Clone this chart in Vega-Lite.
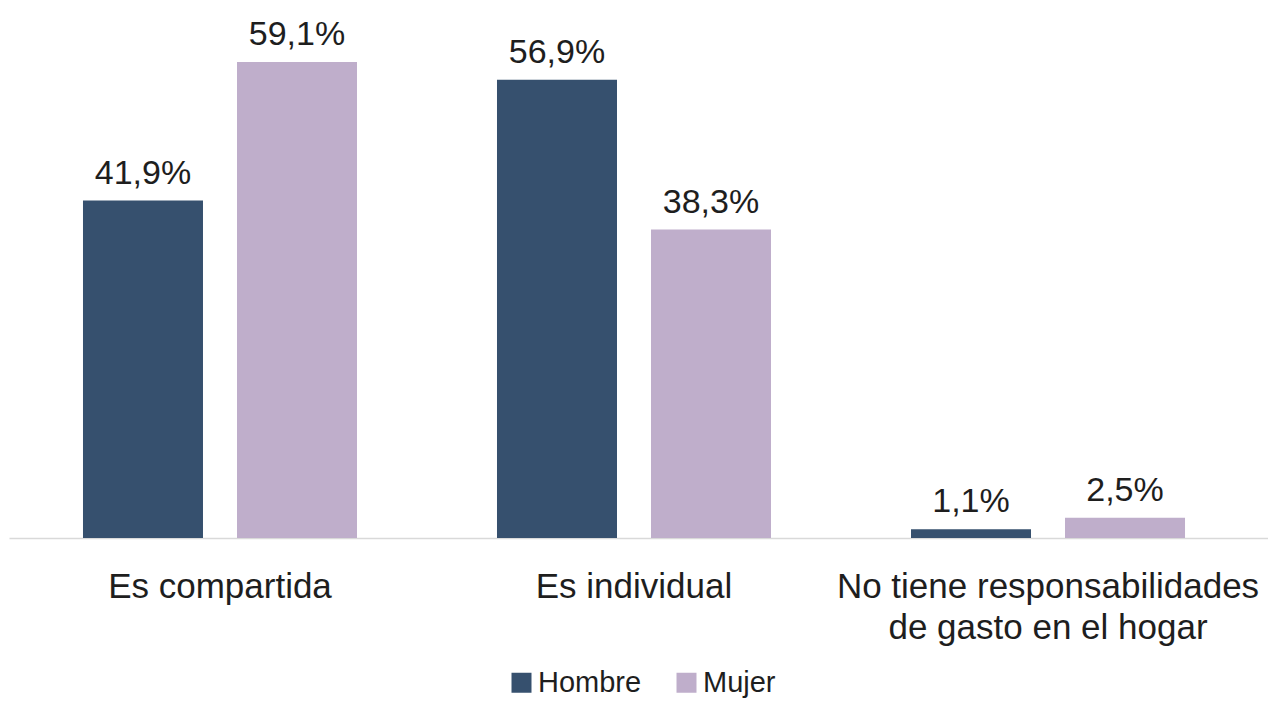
{
  "$schema": "https://vega.github.io/schema/vega-lite/v6.json",
  "width": 1259,
  "height": 538,
  "autosize": {"type": "none"},
  "padding": {"left": 9, "top": 0, "right": 0, "bottom": 163},
  "background": "white",
  "config": {
    "view": {"stroke": null},
    "font": "Liberation Sans"
  },
  "data": {
    "values": [
      {"categoria": "Es compartida", "sexo": "Hombre", "valor": 41.9},
      {"categoria": "Es compartida", "sexo": "Mujer", "valor": 59.1},
      {"categoria": "Es individual", "sexo": "Hombre", "valor": 56.9},
      {"categoria": "Es individual", "sexo": "Mujer", "valor": 38.3},
      {"categoria": "No tiene responsabilidades|de gasto en el hogar", "sexo": "Hombre", "valor": 1.1},
      {"categoria": "No tiene responsabilidades|de gasto en el hogar", "sexo": "Mujer", "valor": 2.5}
    ]
  },
  "transform": [
    {"calculate": "replace(format(datum.valor, '.1f'), '.', ',') + '%'", "as": "etiqueta"}
  ],
  "encoding": {
    "x": {
      "field": "categoria",
      "type": "nominal",
      "sort": ["Es compartida", "Es individual", "No tiene responsabilidades|de gasto en el hogar"],
      "scale": {"paddingInner": 0, "paddingOuter": 0.0205, "align": 0.235},
      "axis": {
        "title": null,
        "labelAngle": 0,
        "ticks": false,
        "tickSize": 0,
        "labelPadding": 31,
        "labelFontSize": 35,
        "labelColor": "#1e1e1e",
        "labelFont": "Liberation Sans",
        "labelLineHeight": 41,
        "labelLimit": 0,
        "labelOverlap": false,
        "labelExpr": "split(datum.value, '|')",
        "domainColor": "#d9d9d9",
        "domainWidth": 1.5
      }
    },
    "xOffset": {
      "field": "sexo",
      "type": "nominal",
      "sort": ["Hombre", "Mujer"],
      "scale": {"paddingInner": 0.2208, "paddingOuter": 0.4545}
    },
    "y": {
      "field": "valor",
      "type": "quantitative",
      "scale": {"domain": [0, 66.8], "nice": false, "zero": true},
      "axis": null
    }
  },
  "layer": [
    {
      "mark": {"type": "bar"},
      "encoding": {
        "color": {
          "field": "sexo",
          "type": "nominal",
          "sort": ["Hombre", "Mujer"],
          "scale": {"domain": ["Hombre", "Mujer"], "range": ["#36506e", "#bfaecb"]},
          "legend": {
            "title": null,
            "orient": "none",
            "direction": "horizontal",
            "legendX": 498,
            "legendY": 668,
            "symbolType": "square",
            "symbolSize": 400,
            "symbolStrokeWidth": 0,
            "symbolOpacity": 1,
            "labelFontSize": 29,
            "labelFont": "Liberation Sans",
            "labelColor": "#1e1e1e",
            "labelOffset": 2,
            "columnPadding": 30,
            "padding": 0
          }
        }
      }
    },
    {
      "mark": {"type": "text", "baseline": "alphabetic", "dy": -17, "fontSize": 34, "color": "#1e1e1e", "font": "Liberation Sans"},
      "encoding": {
        "text": {"field": "etiqueta", "type": "nominal"}
      }
    }
  ]
}
